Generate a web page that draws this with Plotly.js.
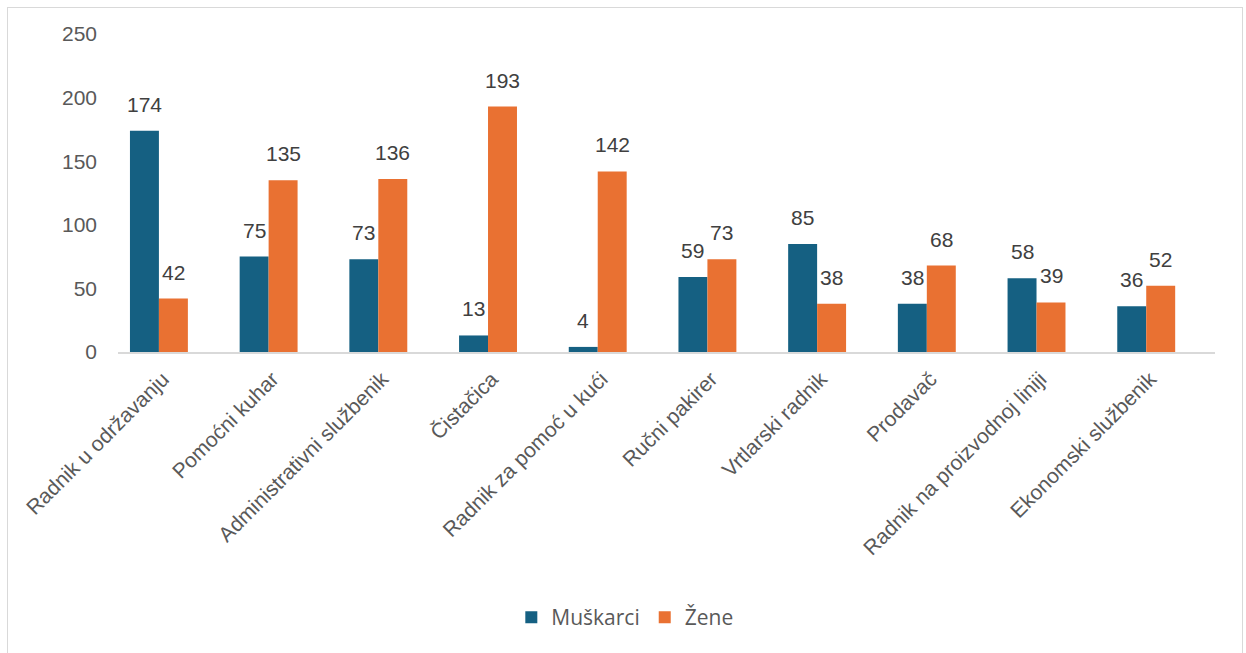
<!DOCTYPE html>
<html>
<head>
<meta charset="utf-8">
<script src="https://cdn.plot.ly/plotly-3.0.1.min.js"></script>
<style>
html,body{margin:0;padding:0;background:#fff;}
#frame{position:absolute;left:7px;top:7px;width:1236px;height:660px;border:1px solid #d9d9d9;box-sizing:border-box;pointer-events:none;z-index:5;}
#chart{width:1246px;height:653px;}
</style>
</head>
<body>
<div id="frame"></div>
<div id="chart"></div>
<script>
const categories = ["Radnik u održavanju","Pomoćni kuhar","Administrativni službenik","Čistačica","Radnik za pomoć u kući","Ručni pakirer","Vrtlarski radnik","Prodavač","Radnik na proizvodnoj liniji","Ekonomski službenik"];
const muskarci = [174, 75, 73, 13, 4, 59, 85, 38, 58, 36];
const zene = [42, 135, 136, 193, 142, 73, 38, 68, 39, 52];
const yTicks = [0, 50, 100, 150, 200, 250];

const BAR_W = 0.264;
const OFF_M = -0.391, OFF_Z = OFF_M + BAR_W;
const labelFont = {family: "Liberation Sans, Arial, sans-serif", size: 21, color: "#404040"};

const traces = [
  {type: "bar", name: "Muškarci", x: categories, y: muskarci, marker: {color: "#156082"},
   width: BAR_W, offset: OFF_M, hoverinfo: "none"},
  {type: "bar", name: "Žene", x: categories, y: zene, marker: {color: "#E97132"},
   width: BAR_W, offset: OFF_Z, hoverinfo: "none"}
];

// data labels as annotations (positioned via the axis scales)
const annotations = [];
categories.forEach((c, i) => {
  annotations.push({x: i + OFF_M + BAR_W / 2, y: muskarci[i], xref: "x", yref: "y", text: String(muskarci[i]),
    showarrow: false, yanchor: "bottom", yshift: 13, font: labelFont});
  annotations.push({x: i + OFF_Z + BAR_W / 2, y: zene[i], xref: "x", yref: "y", text: String(zene[i]),
    showarrow: false, yanchor: "bottom", yshift: 13, font: labelFont});
});

const layout = {
  width: 1246, height: 653,
  margin: {l: 118, r: 31, t: 34, b: 301},
  paper_bgcolor: "#ffffff", plot_bgcolor: "#ffffff",
  font: {family: "Liberation Sans, Arial, sans-serif", color: "#595959"},
  xaxis: {type: "category", range: [-0.5, 9.5], tickangle: -45, tickfont: {size: 21, color: "#595959"},
          ticklabelshift: -10, ticklabelstandoff: 5,
          showline: true, linecolor: "#d9d9d9", linewidth: 1.5, ticks: "", showgrid: false, automargin: false},
  yaxis: {range: [0, 250], tickvals: yTicks, ticktext: yTicks.map(String), tickfont: {size: 21, color: "#595959"},
          showgrid: false, zeroline: false, showline: false, ticks: "", ticklabelstandoff: 20, automargin: false},
  annotations: annotations,
  showlegend: true,
  legend: {orientation: "h", x: 0.462, xanchor: "center", y: -0.835, yanchor: "middle",
           font: {family: "Open Sans, Liberation Sans, sans-serif", size: 21, color: "#595959"}, itemwidth: 30, traceorder: "normal"}
};
Plotly.newPlot("chart", traces, layout, {displayModeBar: false, staticPlot: true});
</script>
</body>
</html>
